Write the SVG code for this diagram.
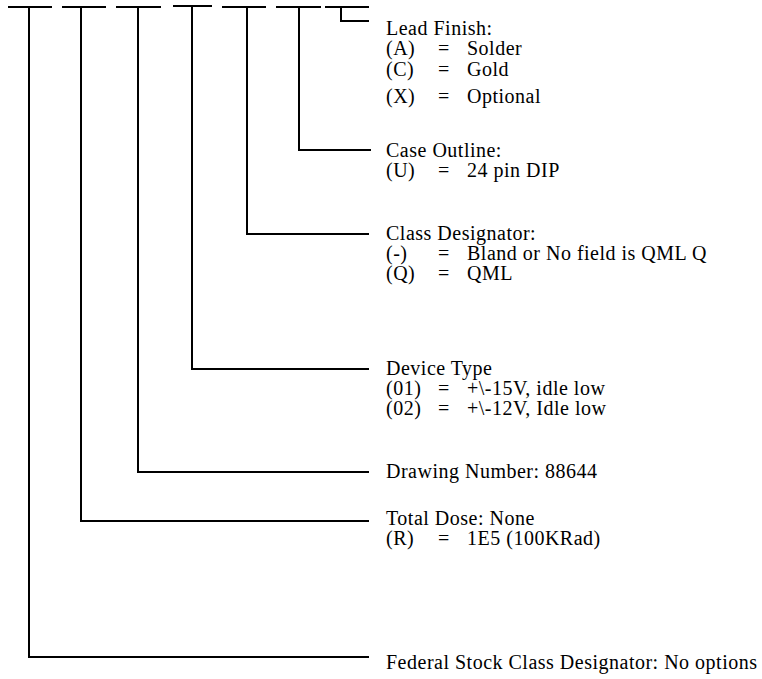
<svg xmlns="http://www.w3.org/2000/svg" width="762" height="679" viewBox="0 0 762 679">
<style>
.ln{fill:none;stroke:#000;stroke-width:2;stroke-linecap:square}
text{font-family:"Liberation Serif","Times New Roman",serif;font-size:20px;letter-spacing:0.5px;fill:#000}
</style>
<rect width="762" height="679" fill="#fff"/>
<g id="connectors">
<path class="ln" d="M9,7H51M29,7V657H368"/>
<path class="ln" d="M63,7H105M81,7V521H368"/>
<path class="ln" d="M117,7H160M138,7V472H368"/>
<path class="ln" d="M174,6H211M192,6V369H368"/>
<path class="ln" d="M223,7H265M247,7V234H368"/>
<path class="ln" d="M277,7H320M299,7V150H370"/>
<path class="ln" d="M326,7H368M341,7V21H368"/>
</g>
<g id="lead-finish">
<text x="386" y="35">Lead Finish:</text>
<text x="386" y="55">(A)</text><text x="438" y="55">=</text><text x="467" y="55">Solder</text>
<text x="386" y="76">(C)</text><text x="438" y="76">=</text><text x="467" y="76">Gold</text>
<text x="386" y="103">(X)</text><text x="438" y="103">=</text><text x="467" y="103">Optional</text>
</g>
<g id="case-outline">
<text x="386" y="157">Case Outline:</text>
<text x="386" y="177">(U)</text><text x="438" y="177">=</text><text x="467" y="177">24 pin DIP</text>
</g>
<g id="class-designator">
<text x="386" y="240">Class Designator:</text>
<text x="386" y="260">(-)</text><text x="438" y="260">=</text><text x="467" y="260">Bland or No field is QML Q</text>
<text x="386" y="280">(Q)</text><text x="438" y="280">=</text><text x="467" y="280">QML</text>
</g>
<g id="device-type">
<text x="386" y="375">Device Type</text>
<text x="386" y="395">(01)</text><text x="438" y="395">=</text><text x="467" y="395">+\-15V, idle low</text>
<text x="386" y="415">(02)</text><text x="438" y="415">=</text><text x="467" y="415">+\-12V, Idle low</text>
</g>
<g id="drawing-number">
<text x="386" y="478">Drawing Number: 88644</text>
</g>
<g id="total-dose">
<text x="386" y="525">Total Dose: None</text>
<text x="386" y="545">(R)</text><text x="438" y="545">=</text><text x="467" y="545">1E5 (100KRad)</text>
</g>
<g id="federal-stock">
<text x="386" y="669">Federal Stock Class Designator: No options</text>
</g>
</svg>
